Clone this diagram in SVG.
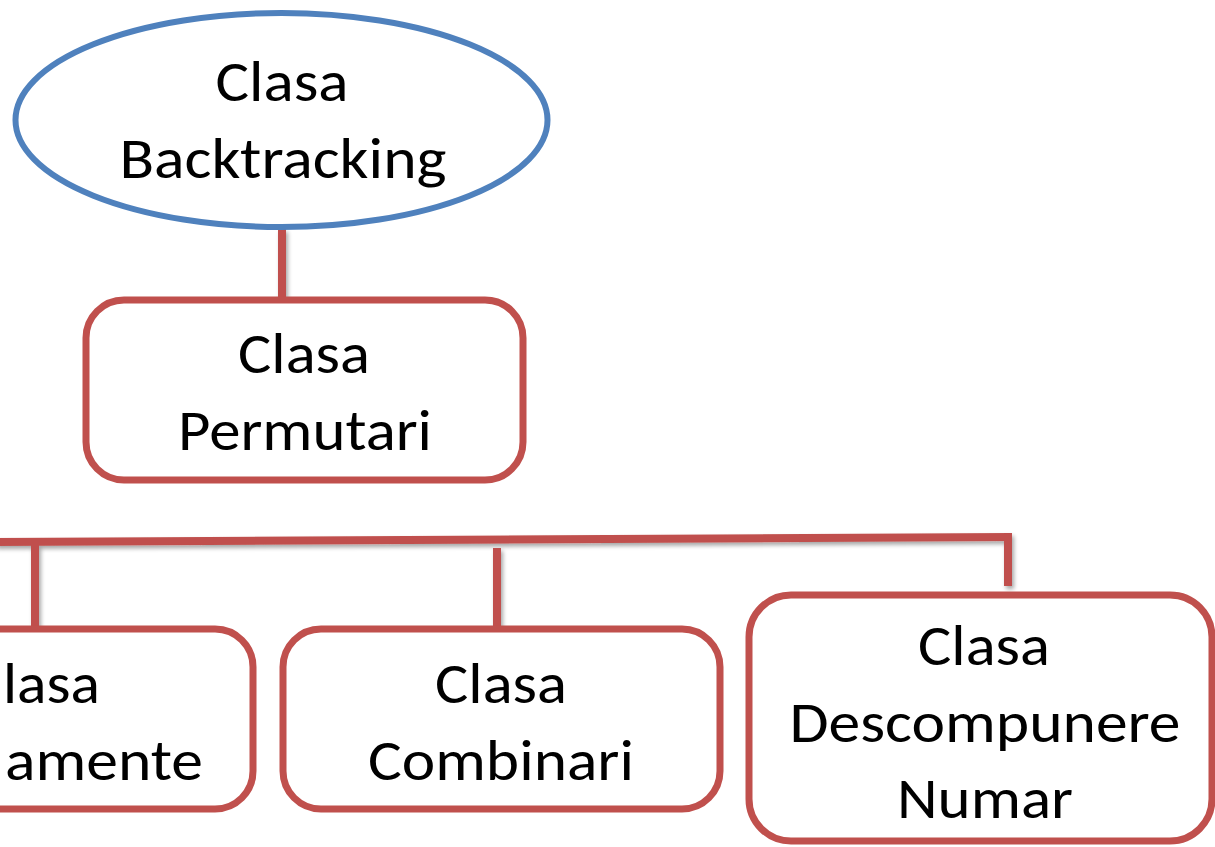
<svg xmlns="http://www.w3.org/2000/svg" width="1215" height="847" viewBox="0 0 1215 847">
<style>
.box{fill:#fff;stroke:#C0504D;stroke-width:7}
.ell{fill:#fff;stroke:#4F81BD;stroke-width:6}
.ln{stroke:#C0504D;stroke-width:8;fill:none}
.t{font-family:Carlito,Lato,"Liberation Sans",sans-serif;font-size:58px;fill:#000;text-anchor:middle}
.tl{font-family:Carlito,Lato,"Liberation Sans",sans-serif;font-size:58px;fill:#000;text-anchor:start}
</style>
<defs>
<filter id="sh" x="-20%" y="-20%" width="140%" height="160%">
<feGaussianBlur in="SourceAlpha" stdDeviation="2"/>
<feOffset dx="2" dy="3" result="b"/>
<feComponentTransfer><feFuncA type="linear" slope="0.35"/></feComponentTransfer>
<feMerge><feMergeNode/><feMergeNode in="SourceGraphic"/></feMerge>
</filter>
</defs>
<rect width="1215" height="847" fill="#fff"/>
<g id="connectors" filter="url(#sh)">
<line class="ln" x1="282" y1="229" x2="282" y2="298"/>
<line class="ln" x1="-5" y1="542" x2="1012" y2="537"/>
<line class="ln" x1="35" y1="542" x2="35" y2="628"/>
<line class="ln" x1="497" y1="548" x2="497" y2="628"/>
<line class="ln" x1="1008" y1="533" x2="1008" y2="586"/>
</g>
<g id="backtracking">
<ellipse class="ell" cx="281.5" cy="120" rx="266" ry="107"/>
<text class="t" x="282" y="101" textLength="133" lengthAdjust="spacingAndGlyphs">Clasa</text>
<text class="t" x="283" y="178" textLength="327" lengthAdjust="spacingAndGlyphs">Backtracking</text>
</g>
<g id="permutari">
<rect class="box" x="86" y="300" width="437" height="180" rx="38"/>
<text class="t" x="304" y="373" textLength="132" lengthAdjust="spacingAndGlyphs">Clasa</text>
<text class="t" x="305" y="450" textLength="254" lengthAdjust="spacingAndGlyphs">Permutari</text>
</g>
<g id="aranjamente">
<rect class="box" x="-200" y="629" width="453" height="180" rx="38"/>
<text class="tl" x="3" y="703" textLength="97" lengthAdjust="spacingAndGlyphs">lasa</text>
<text class="tl" x="5" y="780" textLength="198" lengthAdjust="spacingAndGlyphs">amente</text>
</g>
<g id="combinari">
<rect class="box" x="283" y="629" width="437" height="180" rx="38"/>
<text class="t" x="501" y="703" textLength="132" lengthAdjust="spacingAndGlyphs">Clasa</text>
<text class="t" x="501" y="780" textLength="266" lengthAdjust="spacingAndGlyphs">Combinari</text>
</g>
<g id="descompunere">
<rect class="box" x="749" y="595" width="463" height="246" rx="42"/>
<text class="t" x="984" y="665" textLength="132" lengthAdjust="spacingAndGlyphs">Clasa</text>
<text class="t" x="985" y="742" textLength="391" lengthAdjust="spacingAndGlyphs">Descompunere</text>
<text class="t" x="985" y="818" textLength="176" lengthAdjust="spacingAndGlyphs">Numar</text>
</g>
</svg>
